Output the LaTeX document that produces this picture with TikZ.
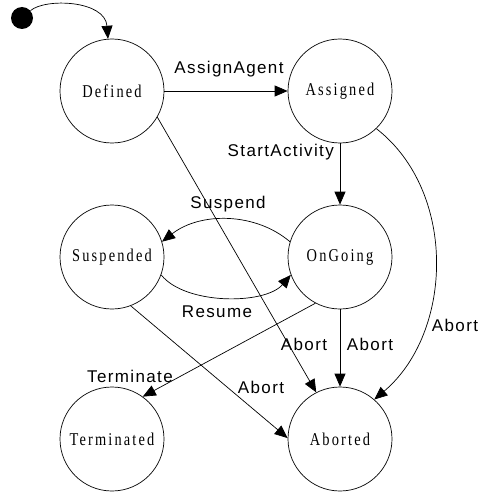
\documentclass[tikz,border=0pt]{standalone}
\usepackage{fontspec}
\usetikzlibrary{arrows.meta}
\newfontfamily\statefont[FakeStretch=0.8,LetterSpace=12]{Liberation Serif}
\newfontfamily\labfont[LetterSpace=8]{Liberation Sans}
\begin{document}
\begin{tikzpicture}[x=1pt,y=-1pt,
  state/.style={circle,draw,line width=0.7pt,minimum size=104pt,inner sep=0pt,
    font=\statefont\fontsize{18}{20}\selectfont},
  startdot/.style={circle,fill=black,minimum size=22pt,inner sep=0pt},
  lab/.style={font=\labfont\fontsize{17}{19}\selectfont,inner sep=0pt,anchor=base},
  tr/.style={line width=0.7pt,-{Triangle[length=13pt,width=11pt]}}]
\useasboundingbox (0,0) rectangle (481,492);
\fill[white] (0,0) rectangle (481,492);
% states
\node[startdot] (start) at (22,18) {};
\node[state] (def) at (112,91) {Defined};
\node[state] (asg) at (340,91) {Assigned};
\node[state] (sus) at (112,257) {Suspended};
\node[state] (ong) at (340,257) {OnGoing};
\node[state] (ter) at (112,439) {Terminated};
\node[state] (abo) at (340,439) {Aborted};
% transitions
\draw[tr] (start) .. controls (45,-2) and (105,0) .. (def);
\draw[tr] (def) -- (asg);
\draw[tr] (asg) -- (ong);
\draw[tr] (def.-30) -- (abo.117);
\draw[tr] (asg.-46) .. controls +(81,63) and +(79,-67) .. (abo.49);
\draw[tr] (ong.163) .. controls (255,212) and (200,212) .. (sus.17);
\draw[tr] (sus.-20) .. controls (185,305) and (265,305) .. (ong.200);
\draw[tr] (ong) -- (abo);
\draw[tr] (ong.242) -- (ter.54);
\draw[tr] (sus.-69) -- (abo.179);
% labels
\node[lab] (lAssign) at (229,74) {AssignAgent};
\node[lab,anchor=base east] (lStart) at (334,156) {StartActivity};
\node[lab] (lSusp) at (228,208) {Suspend};
\node[lab] (lRes) at (217,317) {Resume};
\node[lab] (lAb1) at (304,350) {Abort};
\node[lab] (lAb2) at (370,350) {Abort};
\node[lab] (lAb3) at (455,331) {Abort};
\node[lab] (lAb4) at (261,393) {Abort};
\node[lab] (lTerm) at (130,382) {Terminate};
\end{tikzpicture}
\end{document}
